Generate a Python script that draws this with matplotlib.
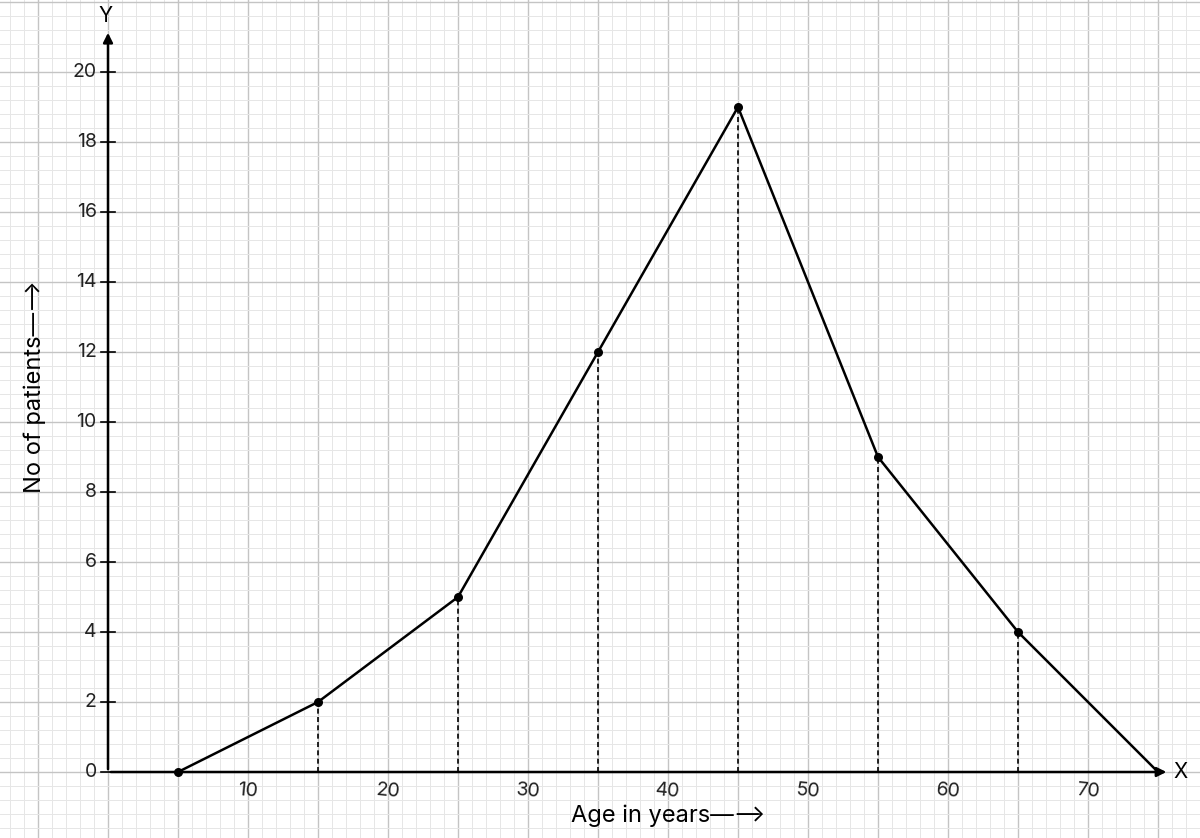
import matplotlib
matplotlib.use("Agg")
import matplotlib.pyplot as plt
import numpy as np

ages = [5, 15, 25, 35, 45, 55, 65, 75]
patients = [0, 2, 5, 12, 19, 9, 4, 0]
xticks = [10, 20, 30, 40, 50, 60, 70]
yticks = [0, 2, 4, 6, 8, 10, 12, 14, 16, 18, 20]

plt.rcParams['font.family'] = ['Inter', 'DejaVu Sans']
fig = plt.figure(figsize=(12, 8.38), dpi=100)
ax = fig.add_axes([0, 0, 1, 1])
ax.set_xlim(-108/14, (1200-108)/14)
ax.set_ylim(-(838-772)/35, 772/35)
for s in ax.spines.values():
    s.set_visible(False)
ax.set_xticks([]); ax.set_yticks([])

# grid
for v in np.arange(-7, 78, 1):
    major = (v % 5 == 0)
    ax.axvline(v, color='#c4c4c4' if major else '#e6e6e6', lw=1.0 if major else 0.7, zorder=0)
for v in np.arange(-1.6, 22.1, 0.4):
    major = abs(round(v / 2) * 2 - v) < 1e-6
    ax.axhline(v, color='#c4c4c4' if major else '#e6e6e6', lw=1.0 if major else 0.7, zorder=0)

# axes with arrows
ax.annotate('', xy=(75.8, 0), xytext=(0, 0),
            arrowprops=dict(arrowstyle='-|>', color='black', lw=1.8, mutation_scale=14))
ax.annotate('', xy=(0, 21.2), xytext=(0, 0),
            arrowprops=dict(arrowstyle='-|>', color='black', lw=1.8, mutation_scale=14))
ax.text(76.1, 0, 'X', fontsize=15, va='center', ha='left')
ax.text(-0.2, 21.6, 'Y', fontsize=15, va='center', ha='center')

for t in yticks:
    ax.plot([-0.5, 0.5], [t, t], color='black', lw=1.2)
    ax.text(-0.8, t, str(t), fontsize=14, ha='right', va='center', color='#222222')
for t in xticks:
    ax.text(t, -0.25, str(t), fontsize=14, ha='center', va='top', color='#222222', rotation=-5)

ax.plot(ages, patients, color='black', lw=1.8, zorder=3)
ax.scatter(ages[:-1], patients[:-1], color='black', s=30, zorder=4)
for a, p in zip(ages[1:-1], patients[1:-1]):
    ax.plot([a, a], [0, p], color='black', lw=1.2, ls=(0, (3, 2)), zorder=2)

ax.text(-5.2, 11.0, 'No of patients—⟶', rotation=90, fontsize=17, ha='center', va='center')
ax.text(40, -1.25, 'Age in years—⟶', fontsize=17, ha='center', va='center')

fig.savefig('out.png', dpi=100)
